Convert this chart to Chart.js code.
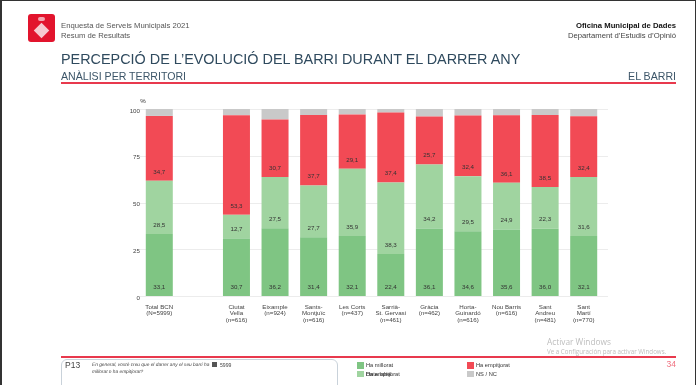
<!DOCTYPE html>
<html>
<head>
<meta charset="utf-8">
<script src="https://cdn.jsdelivr.net/npm/chart.js@4"></script>
<style>
html,body{margin:0;padding:0;background:#fff}
body{width:696px;height:385px;position:relative;overflow:hidden;font-family:"Liberation Sans",Arial,sans-serif}
#chartBox{position:absolute;left:0;top:0;width:696px;height:385px}
.t{position:absolute;white-space:nowrap}
.rule{position:absolute;left:61px;width:615px;height:2px;background:#e8394d}
.sw{position:absolute;width:7px;height:6.5px}
</style>
</head>
<body>
<div id="chartBox"><canvas id="barChart"></canvas></div>

<div style="position:absolute;left:0;top:0;width:696px;height:1px;background:#333"></div>
<div style="position:absolute;left:0;top:0;width:2px;height:385px;background:#333"></div>
<div style="position:absolute;right:0;top:0;width:1px;height:385px;background:#333"></div>

<div style="position:absolute;left:28px;top:14px;width:27px;height:28px;border-radius:3px;background:#e2142d"></div>
<div style="position:absolute;left:36px;top:25px;width:11px;height:11px;background:#f6c9cf;transform:rotate(45deg)"></div>
<div style="position:absolute;left:38px;top:17px;width:7px;height:4px;border-radius:2px;background:#f3a6b0"></div>
<div class="t" style="left:61px;top:21px;font-size:7.7px;line-height:9.7px;color:#555">Enquesta de Serveis Municipals 2021<br>Resum de Resultats</div>
<div class="t" style="right:20px;top:21px;font-size:7.7px;line-height:9.7px;color:#444;text-align:right"><b style="color:#111">Oficina Municipal de Dades</b><br>Departament d’Estudis d’Opinió</div>
<div class="t" style="left:61px;top:50px;font-size:14.4px;line-height:19px;color:#2f4a5e">PERCEPCIÓ DE L’EVOLUCIÓ DEL BARRI DURANT EL DARRER ANY</div>
<div class="t" style="left:61px;top:69px;font-size:10.6px;line-height:14px;color:#3c5568">ANÀLISI PER TERRITORI</div>
<div class="t" style="right:20px;top:69px;font-size:10.6px;line-height:14px;color:#3c5568">EL BARRI</div>
<div class="rule" style="top:82px"></div>
<div class="rule" style="top:356px"></div>

<div style="position:absolute;left:61px;top:359px;width:275px;height:40px;border:1px solid #c9d2da;border-radius:6px"></div>
<div class="t" style="left:65px;top:360px;font-size:8.5px;line-height:10px;color:#444">P13</div>
<div class="t" style="left:92px;top:361.5px;font-size:4.8px;line-height:7px;font-style:italic;color:#444;text-rendering:geometricPrecision">En general, vostè creu que el darrer any el seu barri ha<br>millorat o ha empitjorat?</div>
<div style="position:absolute;left:212px;top:362px;width:5px;height:5px;background:#555"></div>
<div class="t" style="left:220px;top:361.5px;font-size:5.1px;line-height:7px;color:#444">5999</div>

<div id="legendBox"></div>

<div class="t" style="left:547px;top:337px;font-size:8.3px;line-height:10px;color:#bdbdbd;font-family:'Open Sans',sans-serif">Activar Windows</div>
<div class="t" style="left:547px;top:348px;font-size:6.2px;line-height:8px;color:#bdbdbd;font-family:'Open Sans',sans-serif">Ve a Configuración para activar Windows.</div>
<div class="t" style="right:20px;top:359px;font-size:8.5px;line-height:10px;color:#f0707f">34</div>

<script>
const categories = [
  ['Total BCN', '(N=5999)'],
  '',
  ['Ciutat', 'Vella', '(n=616)'],
  ['Eixample', '(n=924)'],
  ['Sants-', 'Montjuïc', '(n=616)'],
  ['Les Corts', '(n=437)'],
  ['Sarrià-', 'St. Gervasi', '(n=461)'],
  ['Gràcia', '(n=462)'],
  ['Horta-', 'Guinardó', '(n=616)'],
  ['Nou Barris', '(n=616)'],
  ['Sant', 'Andreu', '(n=481)'],
  ['Sant', 'Martí', '(n=770)']
];
const millorat = [33.1, null, 30.7, 36.2, 31.4, 32.1, 22.4, 36.1, 34.6, 35.6, 36.0, 32.1];
const igual = [28.5, null, 12.7, 27.5, 27.7, 35.9, 38.3, 34.2, 29.5, 24.9, 22.3, 31.6];
const empitjorat = [34.7, null, 53.3, 30.7, 37.7, 29.1, 37.4, 25.7, 32.4, 36.1, 38.5, 32.4];
const nsnc = [3.7, null, 3.3, 5.6, 3.2, 2.9, 1.9, 4.0, 3.5, 3.4, 3.2, 3.9];
const yTicks = [0, 25, 50, 75, 100];

const green = '#7fc583';
const lightGreen = '#a0d4a0';
const red = '#f24a55';
const grey = '#c9c9c9';

// value labels, they sit close to the bottom of each segment
const barLabels = {
  id: 'barLabels',
  afterDatasetsDraw(chart) {
    const ctx = chart.ctx;
    ctx.save();
    ctx.font = '6.2px "Liberation Sans", Arial, sans-serif';
    ctx.fillStyle = '#333';
    ctx.textAlign = 'center';
    ctx.textBaseline = 'middle';
    chart.data.datasets.forEach((ds, i) => {
      if (i == 3) return;
      chart.getDatasetMeta(i).data.forEach((bar, j) => {
        if (ds.data[j] == null) return;
        ctx.fillText(ds.data[j].toFixed(1).replace('.', ','), bar.x, bar.base - 9);
      });
    });
    ctx.fillText('%', chart.chartArea.left + 3, chart.chartArea.top - 8);
    ctx.restore();
  }
};

// grid runs a bit past the last bar, further than the category band
const longGrid = {
  id: 'longGrid',
  beforeDatasetsDraw(chart) {
    const ctx = chart.ctx;
    const y = chart.scales.y;
    ctx.save();
    ctx.strokeStyle = '#ececec';
    ctx.lineWidth = 1;
    yTicks.forEach(v => {
      const py = Math.round(y.getPixelForValue(v)) + 0.5;
      ctx.beginPath();
      ctx.moveTo(chart.chartArea.left, py);
      ctx.lineTo(chart.chartArea.right + 5, py);
      ctx.stroke();
    });
    ctx.restore();
  }
};

new Chart(document.getElementById('barChart'), {
  type: 'bar',
  data: {
    labels: categories,
    datasets: [
      { label: 'Ha millorat', data: millorat, backgroundColor: green },
      { label: 'Igual', data: igual, backgroundColor: lightGreen },
      { label: 'Ha empitjorat', data: empitjorat, backgroundColor: red },
      { label: 'NS / NC', data: nsnc, backgroundColor: grey }
    ]
  },
  options: {
    responsive: true,
    maintainAspectRatio: false,
    animation: false,
    layout: { padding: { left: 122, right: 93, top: 109, bottom: 0 } },
    plugins: { legend: { display: false }, tooltip: { enabled: false } },
    datasets: { bar: { barPercentage: 0.7, categoryPercentage: 1 } },
    scales: {
      x: {
        stacked: true,
        grid: { display: false, drawTicks: false },
        border: { display: false },
        ticks: { font: { size: 6.2, lineHeight: 1.05, family: '"Liberation Sans", Arial, sans-serif' }, color: '#444', maxRotation: 0, autoSkip: false, padding: 8 },
        afterFit(scale) { scale.height = 89; }
      },
      y: {
        stacked: true,
        min: 0,
        max: 100,
        afterBuildTicks(scale) { scale.ticks = yTicks.map(v => ({ value: v })); },
        grid: { display: false, drawTicks: false },
        border: { display: false },
        ticks: { font: { size: 6.2, family: '"Liberation Sans", Arial, sans-serif' }, color: '#444', padding: 0, labelOffset: 2 },
        afterFit(scale) { scale.width = 18; }
      }
    }
  },
  plugins: [longGrid, barLabels]
});

// legend in the footer box. Second row first column has two texts on top of
// each other on the source slide, kept that way
const legendItems = [
  ['Ha millorat', green, 357, 362],
  ['Ha empitjorat', red, 467, 362],
  ['NS / NC', grey, 467, 370.5],
  ['Data label', lightGreen, 357, 370.5],
  ['Ha empitjorat', null, 357, 370.5]
];
const lb = document.getElementById('legendBox');
legendItems.forEach(it => {
  if (it[1]) {
    const s = document.createElement('div');
    s.className = 'sw';
    s.style.left = it[2] + 'px';
    s.style.top = it[3] + 'px';
    s.style.background = it[1];
    lb.appendChild(s);
  }
  const t = document.createElement('div');
  t.className = 't';
  t.style.cssText = 'left:' + (it[2] + 9) + 'px;top:' + (it[3] - 1) + 'px;font-size:5.7px;line-height:8.5px;color:#333';
  t.textContent = it[0];
  lb.appendChild(t);
});
</script>
</body>
</html>
